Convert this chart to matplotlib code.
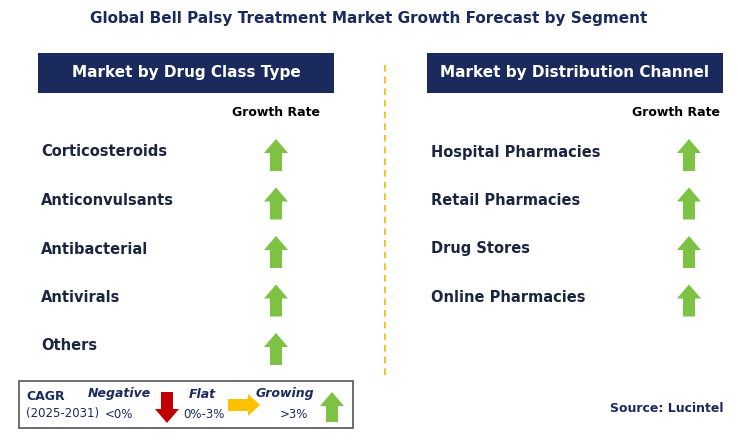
import matplotlib
matplotlib.use("Agg")
import matplotlib.pyplot as plt
from matplotlib.patches import Rectangle, Polygon

title = "Global Bell Palsy Treatment Market Growth Forecast by Segment"
left_header = "Market by Drug Class Type"
right_header = "Market by Distribution Channel"
left_cats = ["Corticosteroids", "Anticonvulsants", "Antibacterial", "Antivirals", "Others"]
left_growth = ["up", "up", "up", "up", "up"]
right_cats = ["Hospital Pharmacies", "Retail Pharmacies", "Drug Stores", "Online Pharmacies"]
right_growth = ["up", "up", "up", "up"]

NAVY = "#1b2a5c"
GREEN = "#7dc242"
RED = "#c00000"
YEL = "#ffc000"
TXT = "#1a2540"

fig = plt.figure(figsize=(7.38, 4.46), dpi=100)
ax = fig.add_axes([0, 0, 1, 1])
ax.set_xlim(0, 738); ax.set_ylim(446, 0); ax.axis("off")

def up_arrow(cx, top, bot, w=12, hw=24, hl=14, c=GREEN):
    pts = [(cx, top), (cx + hw/2, top + hl), (cx + w/2, top + hl), (cx + w/2, bot),
           (cx - w/2, bot), (cx - w/2, top + hl), (cx - hw/2, top + hl)]
    ax.add_patch(Polygon(pts, closed=True, color=c, lw=0))

def down_arrow(cx, top, bot, w=12, hw=24, hl=14, c=RED):
    pts = [(cx, bot), (cx + hw/2, bot - hl), (cx + w/2, bot - hl), (cx + w/2, top),
           (cx - w/2, top), (cx - w/2, bot - hl), (cx - hw/2, bot - hl)]
    ax.add_patch(Polygon(pts, closed=True, color=c, lw=0))

def right_arrow(left, right, cy, h=12, hh=26, hl=14, c=YEL):
    pts = [(right, cy), (right - hl, cy - hh/2), (right - hl, cy - h/2), (left, cy - h/2),
           (left, cy + h/2), (right - hl, cy + h/2), (right - hl, cy + hh/2)]
    ax.add_patch(Polygon(pts, closed=True, color=c, lw=0))

ax.text(369, 18, title, ha="center", va="center", fontsize=11, fontweight="bold", color=NAVY)

for x0, hdr in [(38, left_header), (427, right_header)]:
    ax.add_patch(Rectangle((x0, 53), 296, 40, color=NAVY, lw=0))
    ax.text(x0 + 148, 73, hdr, ha="center", va="center", fontsize=11, fontweight="bold", color="white")

ax.plot([385, 385], [65, 378], ls=(0, (4, 3)), color="#f5b800", lw=1.2)

ax.text(276, 112, "Growth Rate", ha="center", va="center", fontsize=9, fontweight="bold", color="black")
ax.text(676, 112, "Growth Rate", ha="center", va="center", fontsize=9, fontweight="bold", color="black")

for i, (c, g) in enumerate(zip(left_cats, left_growth)):
    y = 152 + 48.5 * i
    ax.text(41, y, c, ha="left", va="center", fontsize=10.5, fontweight="bold", color=TXT)
    up_arrow(276, y - 13, y + 19)
for i, (c, g) in enumerate(zip(right_cats, right_growth)):
    y = 152 + 48.5 * i
    ax.text(431, y, c, ha="left", va="center", fontsize=10.5, fontweight="bold", color=TXT)
    up_arrow(689, y - 13, y + 19)

ax.add_patch(Rectangle((19, 381), 334, 47, fill=False, ec="#555555", lw=1.2))
ax.text(26, 397, "CAGR", fontsize=9, fontweight="bold", color=NAVY, va="center")
ax.text(26, 414, "(2025-2031)", fontsize=8.5, color=NAVY, va="center")
ax.text(119, 394, "Negative", fontsize=9, fontweight="bold", fontstyle="italic", color=NAVY, ha="center", va="center")
ax.text(119, 415, "<0%", fontsize=8.5, color=NAVY, ha="center", va="center")
down_arrow(167, 392, 423, w=12, hw=24, hl=14)
ax.text(202, 394, "Flat", fontsize=9, fontweight="bold", fontstyle="italic", color=NAVY, ha="center", va="center")
ax.text(204, 415, "0%-3%", fontsize=8.5, color=NAVY, ha="center", va="center")
right_arrow(228, 260, 405, h=12, hh=22, hl=12)
ax.text(285, 394, "Growing", fontsize=9, fontweight="bold", fontstyle="italic", color=NAVY, ha="center", va="center")
ax.text(294, 415, ">3%", fontsize=8.5, color=NAVY, ha="center", va="center")
up_arrow(332, 392, 422, w=12, hw=24, hl=14)

ax.text(724, 408, "Source: Lucintel", ha="right", va="center", fontsize=9, fontweight="bold", color=NAVY)

fig.savefig("out.png", dpi=100)
